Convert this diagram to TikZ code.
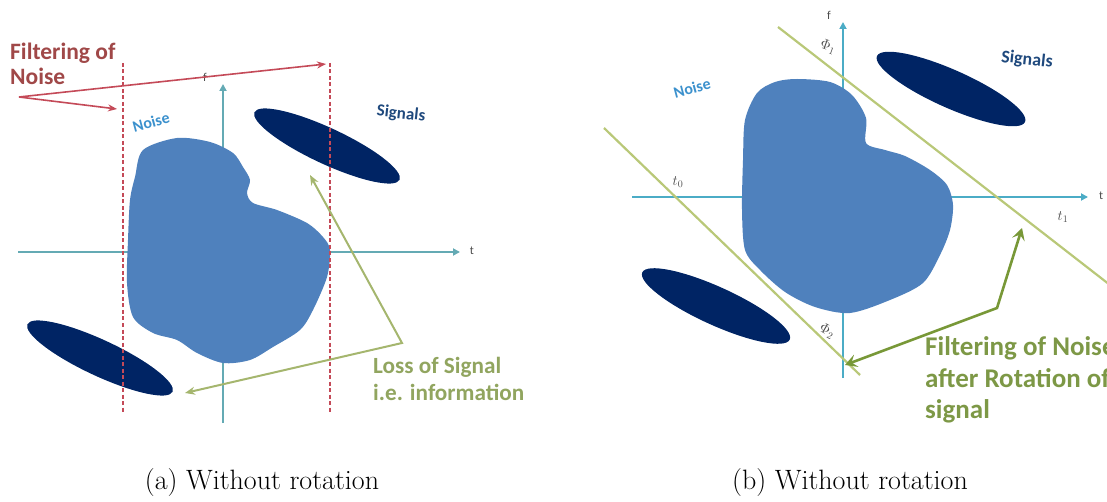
\documentclass[tikz,border=0pt]{standalone}
\usepackage{fontspec}
\newfontfamily\calibfont{Carlito}
\usetikzlibrary{arrows.meta,shapes.geometric}
\definecolor{blobc}{RGB}{79,129,189}
\definecolor{sigc}{RGB}{0,36,100}
\definecolor{axisL}{RGB}{100,170,180}
\definecolor{axisR}{RGB}{75,172,198}
\definecolor{redL}{RGB}{196,74,88}
\definecolor{redT}{RGB}{160,72,72}
\definecolor{grnL}{RGB}{165,182,110}
\definecolor{grnLT}{RGB}{145,165,95}
\definecolor{grnR}{RGB}{120,152,55}
\definecolor{grnRT}{RGB}{125,152,70}
\definecolor{grnRL}{RGB}{185,200,120}
\definecolor{noisec}{RGB}{60,145,205}
\definecolor{sigt}{RGB}{31,73,125}
\tikzset{
  axisline/.style={line width=2pt,-{Triangle[length=7pt,width=7pt]}},
  axlbl/.style={font=\calibfont\fontsize{12}{14}\selectfont,text=black!70,inner sep=0},
  mathlbl/.style={font=\fontsize{14}{16}\selectfont,text=black!70,inner sep=0},
  sigell/.style={ellipse,fill=sigc,inner sep=0,minimum width=160pt,minimum height=36pt},
  noiselbl/.style={font=\calibfont\bfseries\fontsize{16}{18}\selectfont,text=noisec,inner sep=0,rotate=15},
  siglbl/.style={font=\calibfont\bfseries\fontsize{17}{19}\selectfont,text=sigt,inner sep=0,rotate=-6},
  redtxt/.style={font=\calibfont\bfseries\fontsize{23.5}{26}\selectfont,text=redT,inner sep=0,anchor=base west},
  grnltxt/.style={font=\calibfont\bfseries\fontsize{23.2}{26}\selectfont,text=grnLT,inner sep=0,anchor=base west},
  grnrtxt/.style={font=\calibfont\bfseries\fontsize{27}{30}\selectfont,text=grnRT,inner sep=0,anchor=base west},
  captxt/.style={font=\fontsize{28}{32}\selectfont,inner sep=0},
  filterline/.style={redL,line width=2pt,dash pattern=on 4pt off 2.5pt},
}
\begin{document}
\begin{tikzpicture}[x=1pt,y=-1pt]
\useasboundingbox (0,0) rectangle (1107,502);
\clip (0,0) rectangle (1107,502);
% ---------------- left panel ----------------
\coordinate (Lt0) at (18,252);
\coordinate (Lt1) at (460,252);
\coordinate (Lf0) at (223,423);
\coordinate (Lf1) at (223,84);
\draw[axisline,axisL] (Lt0) -- (Lt1);
\draw[axisline,axisL] (Lf0) -- (Lf1);
\node[axlbl] (Ltlab) at (472,251) {t};
\node[axlbl] (Lflab) at (205,77) {f};
\fill[blobc] plot[smooth cycle] coordinates {
 (177,138) (210,142) (233,153) (243,167) (250,180) (247,193) (253,203)
 (277,210) (307,223) (323,237) (330,250) (327,277) (313,310) (300,330)
 (273,347) (250,360) (223,363) (197,353) (177,340) (153,333) (133,317)
 (127,283) (128,240) (130,200) (135,177) (143,150)};
\node[sigell,rotate=-25] (Lsig1) at (327,146) {};
\node[sigell,rotate=-25] (Lsig2) at (100,358) {};
\coordinate (Ld1a) at (123,63);
\coordinate (Ld1b) at (123,412);
\coordinate (Ld2a) at (330,63);
\coordinate (Ld2b) at (330,412);
\draw[filterline] (Ld1a) -- (Ld1b);
\draw[filterline] (Ld2a) -- (Ld2b);
\coordinate (Rorig) at (19,97);
\coordinate (Rtip1) at (326,64);
\coordinate (Rtip2) at (117,109);
\draw[redL,line width=1.6pt,-{Stealth[length=9pt,width=7pt]}] (Rorig) -- (Rtip1);
\draw[redL,line width=1.6pt,-{Stealth[length=9pt,width=7pt]}] (Rorig) -- (Rtip2);
\node[redtxt] (ftxt1) at (10,60) {Filtering of};
\node[redtxt] (ftxt2) at (10,85) {Noise};
\node[noiselbl] (Lnoise) at (151,122) {Noise};
\node[siglbl] (Lsiglab) at (401,114) {Signals};
\coordinate (Gtip1) at (310,175);
\coordinate (Gcorner) at (402,343);
\coordinate (Gtip2) at (185,393);
\draw[grnL,line width=2pt,{Stealth[length=10pt,width=8pt]}-{Stealth[length=10pt,width=8pt]}] (Gtip1) -- (Gcorner) -- (Gtip2);
\node[grnltxt] (loss1) at (373,373) {Loss of Signal};
\node[grnltxt] (loss2) at (373,400) {i.e. information};
\node[captxt] (capa) at (262,483) {(a) Without rotation};
% ---------------- right panel ----------------
\coordinate (Rt0) at (632,197);
\coordinate (Rt1) at (1088,197);
\coordinate (Rf0) at (843,378);
\coordinate (Rf1) at (843,22);
\draw[axisline,axisR] (Rt0) -- (Rt1);
\draw[axisline,axisR] (Rf0) -- (Rf1);
\node[axlbl] (Rtlab) at (1101,196) {t};
\node[axlbl] (Rflab) at (829,15) {f};
\fill[blobc] plot[smooth cycle] coordinates {
 (797,79) (830,82) (852,95) (866,118) (866,143) (885,150) (905,156)
 (930,170) (947,185) (953,205) (950,230) (940,255) (923,283) (890,300)
 (850,313) (815,307) (785,292) (760,270) (745,250) (742,210) (743,160)
 (745,120) (757,93) (775,82)};
\node[sigell,rotate=-24,minimum width=162pt,minimum height=38pt] (Rsig1) at (951,89) {};
\node[sigell,rotate=-24.5,minimum width=162pt,minimum height=38pt] (Rsig2) at (716,306) {};
\coordinate (RL1a) at (604,128);
\coordinate (RL1b) at (860,375);
\coordinate (RL2a) at (778,27);
\coordinate (RL2b) at (1110,285);
\draw[grnRL,line width=2.2pt] (RL1a) -- (RL1b);
\draw[grnRL,line width=2.2pt] (RL2a) -- (RL2b);
\node[mathlbl] (t0lab) at (678,182) {$t_0$};
\node[mathlbl] (t1lab) at (1063,217) {$t_1$};
\node[mathlbl,rotate=-20] (phi1) at (828,47) {$\Phi_1$};
\node[mathlbl,rotate=-30] (phi2) at (827,331) {$\Phi_2$};
\node[noiselbl] (Rnoise) at (692,88) {Noise};
\node[siglbl,font=\calibfont\bfseries\fontsize{18}{20}\selectfont] (Rsiglab) at (1027,60) {Signals};
\coordinate (Htip1) at (1022,228);
\coordinate (Hcorner) at (997,308);
\coordinate (Htip2) at (845,365);
\draw[grnR,line width=2.6pt,{Stealth[length=12pt,width=13pt,inset=5pt]}-{Stealth[length=12pt,width=13pt,inset=5pt]}] (Htip1) -- (Hcorner) -- (Htip2);
\node[grnrtxt] (rot1) at (925,355) {Filtering of Noise};
\node[grnrtxt] (rot2) at (925,387) {after Rotation of};
\node[grnrtxt] (rot3) at (925,418) {signal};
\node[captxt] (capb) at (850,483) {(b) Without rotation};
\end{tikzpicture}
\end{document}
